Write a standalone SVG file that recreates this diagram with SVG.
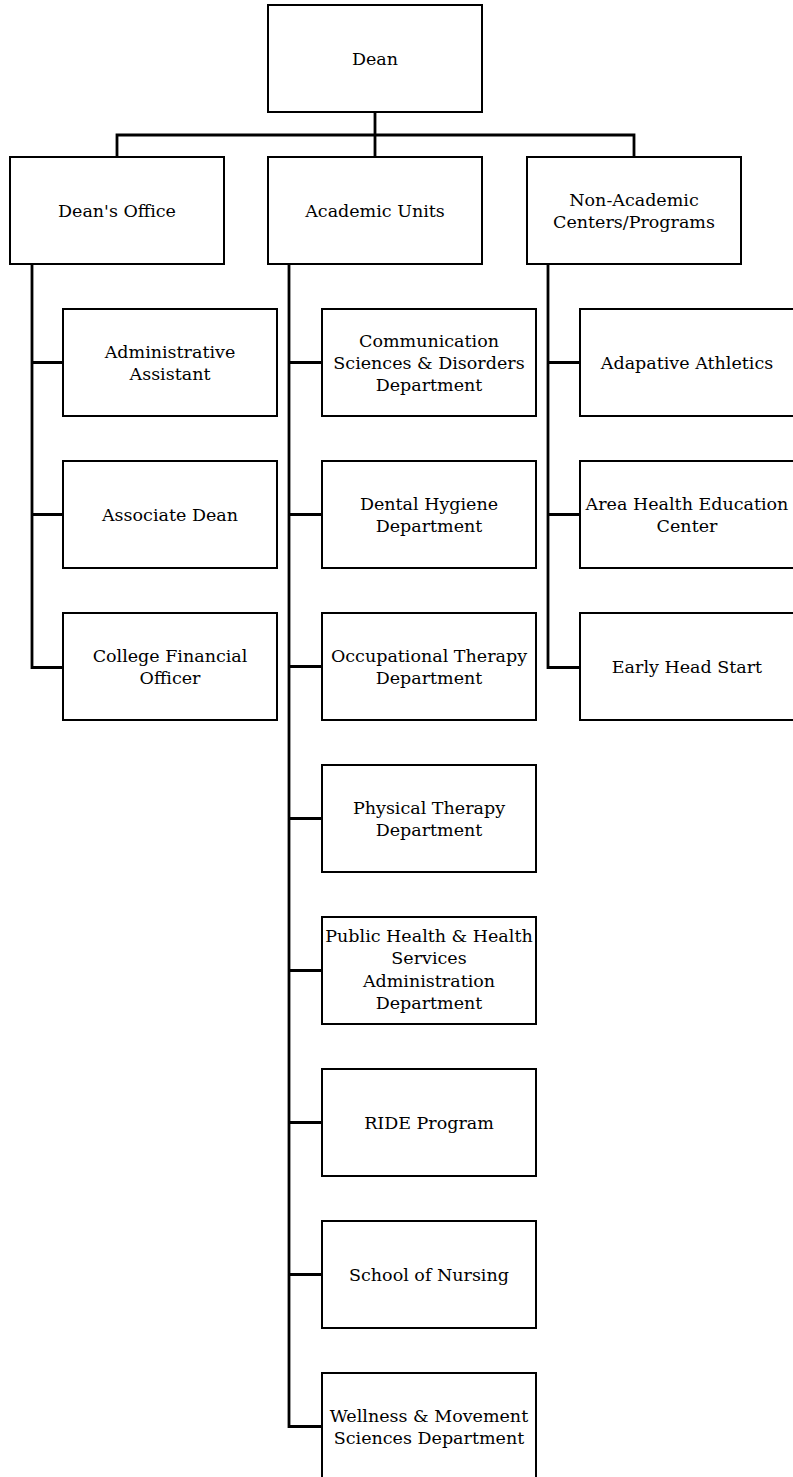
<svg xmlns="http://www.w3.org/2000/svg" width="793" height="1477" viewBox="0 0 793 1477">
<style>
.box{fill:#fff;stroke:#000;stroke-width:2}
.c{fill:none;stroke:#000;stroke-width:2.8;stroke-linejoin:miter}
text{font-family:"DejaVu Serif","Liberation Serif",serif;font-size:17.5px;fill:#000;text-anchor:middle}
</style>
<rect width="793" height="1477" fill="#fff"/>
<g id="connectors">
<path class="c" d="M375 112V157M117 157V135H634V157"/>
<path class="c" d="M32 264V667.5H63M32 362.5H63M32 514.5H63"/>
<path class="c" d="M289 264V1426.5H322M289 362.5H322M289 514.5H322M289 666.5H322M289 818.5H322M289 970.5H322M289 1122.5H322M289 1274.5H322"/>
<path class="c" d="M548 264V667.5H580M548 362.5H580M548 514.5H580"/>
</g>
<g id="dean"><rect class="box" x="268" y="5" width="214" height="107"/><text x="375" y="65">Dean</text></g>
<g id="deans-office"><rect class="box" x="10" y="157" width="214" height="107"/><text x="117" y="217">Dean's Office</text></g>
<g id="academic-units"><rect class="box" x="268" y="157" width="214" height="107"/><text x="375" y="217">Academic Units</text></g>
<g id="non-academic"><rect class="box" x="527" y="157" width="214" height="107"/><text x="634" y="206">Non-Academic</text><text x="634" y="228">Centers/Programs</text></g>

<g id="admin-assistant"><rect class="box" x="63" y="309" width="214" height="107"/><text x="170" y="358">Administrative</text><text x="170" y="380">Assistant</text></g>
<g id="associate-dean"><rect class="box" x="63" y="461" width="214" height="107"/><text x="170" y="521">Associate Dean</text></g>
<g id="cfo"><rect class="box" x="63" y="613" width="214" height="107"/><text x="170" y="662">College Financial</text><text x="170" y="684">Officer</text></g>

<g id="csd"><rect class="box" x="322" y="309" width="214" height="107"/><text x="429" y="347">Communication</text><text x="429" y="369">Sciences &amp; Disorders</text><text x="429" y="391">Department</text></g>
<g id="dental"><rect class="box" x="322" y="461" width="214" height="107"/><text x="429" y="510">Dental Hygiene</text><text x="429" y="532">Department</text></g>
<g id="ot"><rect class="box" x="322" y="613" width="214" height="107"/><text x="429" y="662">Occupational Therapy</text><text x="429" y="684">Department</text></g>
<g id="pt"><rect class="box" x="322" y="765" width="214" height="107"/><text x="429" y="814">Physical Therapy</text><text x="429" y="836">Department</text></g>
<g id="public-health"><rect class="box" x="322" y="917" width="214" height="107"/><text x="429" y="942">Public Health &amp; Health</text><text x="429" y="964">Services</text><text x="429" y="987">Administration</text><text x="429" y="1009">Department</text></g>
<g id="ride"><rect class="box" x="322" y="1069" width="214" height="107"/><text x="429" y="1129">RIDE Program</text></g>
<g id="nursing"><rect class="box" x="322" y="1221" width="214" height="107"/><text x="429" y="1281">School of Nursing</text></g>
<g id="wellness"><rect class="box" x="322" y="1373" width="214" height="107"/><text x="429" y="1422">Wellness &amp; Movement</text><text x="429" y="1444">Sciences Department</text></g>

<g id="adaptive"><rect class="box" x="580" y="309" width="214" height="107"/><text x="687" y="369">Adapative Athletics</text></g>
<g id="ahec"><rect class="box" x="580" y="461" width="214" height="107"/><text x="687" y="510">Area Health Education</text><text x="687" y="532">Center</text></g>
<g id="early-head-start"><rect class="box" x="580" y="613" width="214" height="107"/><text x="687" y="673">Early Head Start</text></g>
</svg>
